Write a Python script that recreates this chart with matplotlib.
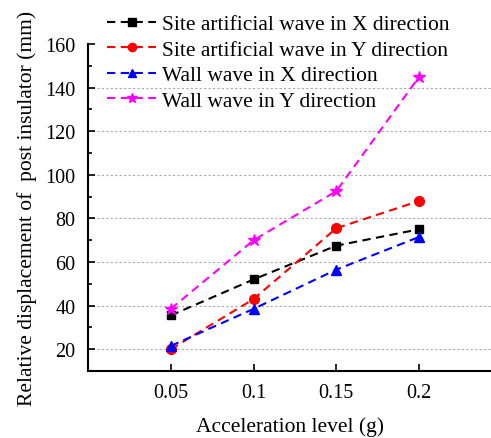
import matplotlib
matplotlib.use("Agg")
import matplotlib.pyplot as plt
from matplotlib.ticker import MultipleLocator

plt.rcParams["font.family"] = ["Liberation Serif", "DejaVu Serif"]
plt.rcParams["font.size"] = 14.5

accel = [0.05, 0.1, 0.15, 0.2]
site_x = [35.5, 52, 67.5, 75]
site_y = [20, 43, 75.5, 88]
wall_x = [21.5, 38.5, 56.5, 71.5]
wall_y = [38.5, 70, 92.5, 145]

labels = ["Site artificial wave in X direction",
          "Site artificial wave in Y direction",
          "Wall wave in X direction",
          "Wall wave in Y direction"]

fig = plt.figure(figsize=(4.91, 4.39), dpi=100)
ax = fig.add_axes([88/491, (439-372)/439, 1 - 88/491, (372-45)/439])

dash = (0, (4, 2.6))
ax.plot(accel, site_x, ls=dash, marker="s", color="black", ms=6, label=labels[0])
ax.plot(accel, site_y, ls=dash, marker="o", color="red", ms=7, label=labels[1])
ax.plot(accel, wall_x, ls=dash, marker="^", color="blue", ms=7, label=labels[2])
ax.plot(accel, wall_y, ls=dash, marker="*", color="magenta", ms=9, label=labels[3])

ax.set_xlim(0, 0.2434)
ax.set_ylim(10, 160)
ax.set_xticks(accel)
ax.set_xticklabels(["0.05", "0.1", "0.15", "0.2"])
ax.set_yticks([20, 40, 60, 80, 100, 120, 140, 160])
ax.yaxis.set_minor_locator(MultipleLocator(10))
ax.tick_params(direction="in", width=1.2, length=5)
ax.tick_params(which="minor", direction="in", width=1.2, length=3)
ax.tick_params(axis="x", pad=9)
ax.tick_params(axis="y", pad=9)

for v in [20, 40, 60, 80, 100, 120, 140]:
    ax.axhline(v, color="#aaaaaa", ls=(0, (2, 2)), lw=0.8, zorder=0)

for s in ["top", "right"]:
    ax.spines[s].set_visible(False)
for s in ["left", "bottom"]:
    ax.spines[s].set_linewidth(1.5)

ax.set_xlabel("Acceleration level (g)", fontsize=15.5, labelpad=10)
ax.set_ylabel("Relative displacement of  post insulator (mm)", fontsize=15.5, labelpad=6)

fig.legend(loc="upper left", bbox_to_anchor=(94/491, 0.995), frameon=False,
           fontsize=15.5, handlelength=2.3, handletextpad=0.25, labelspacing=0.25,
           borderaxespad=0.2, markerscale=0.85)

fig.savefig("out.png", dpi=100)
